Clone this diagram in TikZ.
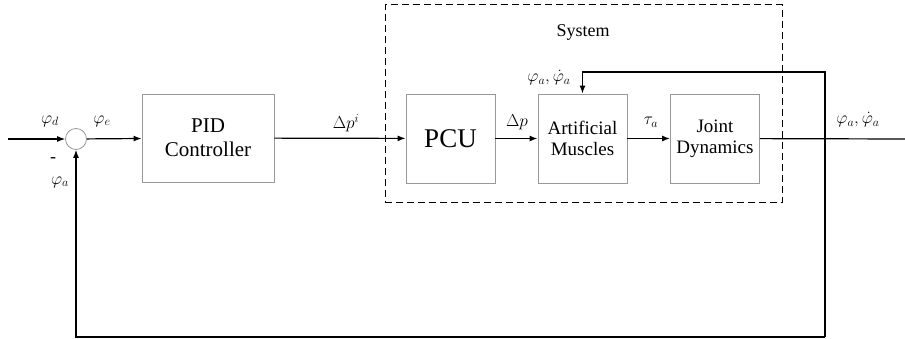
\documentclass[tikz,border=0pt]{standalone}
\usepackage{fontspec}
\setmainfont{Liberation Serif}
\usetikzlibrary{arrows.meta}
\begin{document}
\begin{tikzpicture}[x=1pt,y=-1pt,
  blk/.style={draw=black!40,line width=0.9pt,minimum width=89pt,minimum height=89pt,align=center,font=\rmfamily\fontsize{19}{21}\selectfont,inner sep=0pt},
  sig/.style={line width=1.2pt,-{Latex[length=8pt,width=6pt]}},
  wire/.style={line width=1.2pt},
  lbl/.style={font=\fontsize{18}{20}\selectfont,inner sep=0pt}]
\useasboundingbox (0,0) rectangle (905,339);
\node[draw=black!40,line width=0.8pt,circle,minimum size=21pt,inner sep=0pt] (sum) at (76,139) {};
\node[blk,minimum width=132pt,minimum height=88pt,font=\rmfamily\fontsize{21}{24}\selectfont] (pid) at (208,138) {PID\\Controller};
\node[blk,font=\rmfamily\fontsize{27}{29}\selectfont] (pcu) at (450.5,138.5) {PCU};
\node[blk] (am) at (582.5,138.5) {Artificial\\Muscles};
\node[blk] (jd) at (715,138.5) {Joint\\Dynamics};
\node[draw,dashed,dash pattern=on 7pt off 4pt,line width=1pt,minimum width=397pt,minimum height=198pt,inner sep=0pt] (sys) at (583.5,104) {};
\node[font=\rmfamily\fontsize{18}{20}\selectfont] (systxt) at (583,32) {System};
\coordinate (in) at (8,139);
\coordinate (out) at (905,139);
\coordinate (tr) at (825,72);
\coordinate (tl) at (582.5,72);
\coordinate (bbr) at (825,337);
\coordinate (bbl) at (76,337);
\draw[sig] (in) -- (sum);
\draw[sig] (sum) -- (pid);
\draw[sig] (pid) -- (pcu);
\draw[sig] (pcu) -- (am);
\draw[sig] (am) -- (jd);
\draw[wire] (jd) -- (out);
\draw[sig] (bbr) -- (tr) -- (tl) -- (am);
\draw[sig] (bbr) -- (bbl) -- (sum);
\node[lbl] (l1) at (50,121) {$\varphi_d$};
\node[lbl] (l2) at (102,121) {$\varphi_e$};
\node[lbl] (l3) at (53,160) {-};
\node[lbl] (l4) at (60,182) {$\varphi_a$};
\node[lbl] (l5) at (346,123) {$\Delta p^i$};
\node[lbl] (l6) at (517,122) {$\Delta p$};
\node[lbl] (l7) at (651,122) {$\tau_a$};
\node[lbl] (l8) at (549,78) {$\varphi_a,\dot{\varphi}_a$};
\node[lbl] (l9) at (858,120) {$\varphi_a,\dot{\varphi}_a$};
\end{tikzpicture}
\end{document}
